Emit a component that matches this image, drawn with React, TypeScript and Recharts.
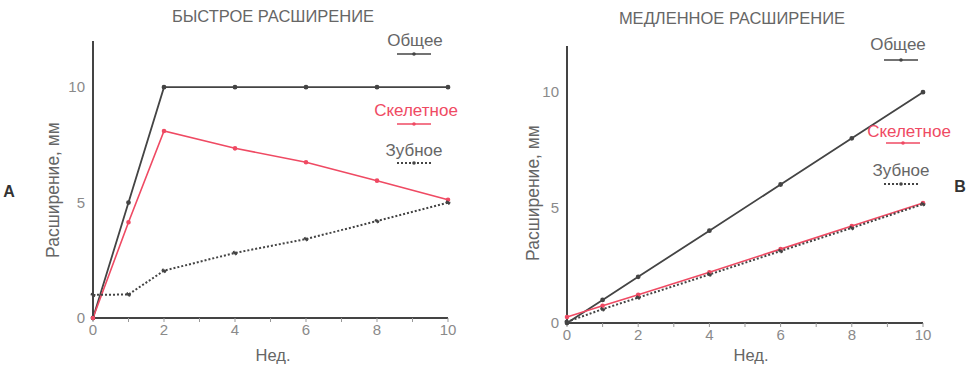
import React from 'react';
import { LineChart, Line, XAxis, YAxis } from 'recharts';

const weeks = [0, 1, 2, 4, 6, 8, 10];
const xTicks = [0, 1, 2, 3, 4, 5, 6, 7, 8, 9, 10];
const yTicks = [0, 5, 10];

// Rapid expansion (A)
const rapidTotal = [0, 5, 10, 10, 10, 10, 10];
const rapidSkeletal = [0, 4.15, 8.1, 7.35, 6.75, 5.95, 5.12];
const rapidDental = [1, 1.02, 2.05, 2.82, 3.42, 4.2, 5.0];

// Slow expansion (B)
const slowTotal = [0, 1, 2, 4, 6, 8, 10];
const slowSkeletal = [0.26, 0.75, 1.22, 2.2, 3.2, 4.2, 5.2];
const slowDental = [0.05, 0.6, 1.1, 2.1, 3.12, 4.12, 5.15];

const DARK = '#444';
const RED = '#ef4a63';
const TEXT = '#666';
const FONT = '"Liberation Sans", Arial, sans-serif';

const build = (total: number[], skeletal: number[], dental: number[]) =>
  weeks.map((w, i) => ({ w, total: total[i], skeletal: skeletal[i], dental: dental[i] }));

const rapidData = build(rapidTotal, rapidSkeletal, rapidDental);
const slowData = build(slowTotal, slowSkeletal, slowDental);

const tickStyle = { fill: '#8a8a8a', fontSize: 15, fontFamily: FONT };

interface PanelProps {
  data: ReturnType<typeof build>;
  margin: { top: number; right: number; bottom: number; left: number };
  width: number;
}

const Panel = ({ data, margin, width }: PanelProps) => (
  <LineChart width={width} height={365} data={data} margin={margin}>
    <XAxis
      dataKey="w"
      type="number"
      domain={[0, 10]}
      ticks={xTicks}
      interval={0}
      tickFormatter={(v: number) => (v % 2 === 0 ? String(v) : '')}
      axisLine={{ stroke: DARK, strokeWidth: 2 }}
      tickLine={{ stroke: '#999' }}
      tickSize={4}
      tick={tickStyle}
      height={30}
    />
    <YAxis
      type="number"
      domain={[0, 12]}
      ticks={yTicks}
      axisLine={{ stroke: DARK, strokeWidth: 2 }}
      tickLine={false}
      tick={tickStyle}
      width={30}
    />
    <Line dataKey="total" stroke={DARK} strokeWidth={1.8} dot={{ r: 1.5, fill: DARK, stroke: DARK }} isAnimationActive={false} />
    <Line dataKey="skeletal" stroke={RED} strokeWidth={1.6} dot={{ r: 1.5, fill: RED, stroke: RED }} isAnimationActive={false} />
    <Line dataKey="dental" stroke={DARK} strokeWidth={2} strokeDasharray="2 2" dot={{ r: 1.5, fill: DARK, stroke: DARK }} isAnimationActive={false} />
  </LineChart>
);

const text = (x: number, y: number, s: string, extra: React.CSSProperties = {}) => (
  <div
    style={{
      position: 'absolute',
      left: x,
      top: y,
      transform: 'translate(-50%, -50%)',
      whiteSpace: 'nowrap',
      fontFamily: FONT,
      color: TEXT,
      fontSize: 17,
      ...extra,
    }}
  >
    {s}
  </div>
);

const legendLine = (x: number, y: number, color: string, dashed = false) => (
  <svg style={{ position: 'absolute', left: x - 17, top: y - 3 }} width={34} height={6}>
    <line x1={0} y1={3} x2={34} y2={3} stroke={color} strokeWidth={dashed ? 2 : 1.6} strokeDasharray={dashed ? '2 2' : undefined} />
    <circle cx={17} cy={3} r={1.8} fill={color} />
  </svg>
);

const App = () => (
  <div style={{ position: 'absolute', left: 0, top: 0, width: 969, height: 365, background: '#fff' }}>
    <div style={{ position: 'absolute', left: 0, top: 0 }}>
      <Panel data={rapidData} width={480} margin={{ top: 41, right: 32, bottom: 17, left: 63 }} />
    </div>
    <div style={{ position: 'absolute', left: 480, top: 0 }}>
      <Panel data={slowData} width={489} margin={{ top: 46, right: 46, bottom: 12, left: 57 }} />
    </div>

    {text(273, 16, 'БЫСТРОЕ РАСШИРЕНИЕ', { fontSize: 16.5 })}
    {text(732, 18, 'МЕДЛЕННОЕ РАСШИРЕНИЕ', { fontSize: 16.5 })}

    {text(9, 192, 'A', { fontWeight: 'bold', color: '#333', fontSize: 16 })}
    {text(960, 187, 'B', { fontWeight: 'bold', color: '#333', fontSize: 16 })}

    {text(53, 190, 'Расширение, мм', { fontSize: 17.5, transform: 'translate(-50%, -50%) rotate(-90deg)' })}
    {text(533, 193, 'Расширение, мм', { fontSize: 17.5, transform: 'translate(-50%, -50%) rotate(-90deg)' })}
    {text(273, 355, 'Нед.', { fontSize: 16.5 })}
    {text(751, 355, 'Нед.', { fontSize: 16.5 })}

    {text(415, 41, 'Общее')}
    {legendLine(414, 54, DARK)}
    {text(416, 111, 'Скелетное', { color: RED })}
    {legendLine(414, 124, RED)}
    {text(414, 151, 'Зубное')}
    {legendLine(414, 163, DARK, true)}

    {text(898, 45, 'Общее')}
    {legendLine(901, 60, DARK)}
    {text(909, 132, 'Скелетное', { color: RED })}
    {legendLine(903, 143, RED)}
    {text(901, 171, 'Зубное')}
    {legendLine(901, 184, DARK, true)}
  </div>
);

export default App;
